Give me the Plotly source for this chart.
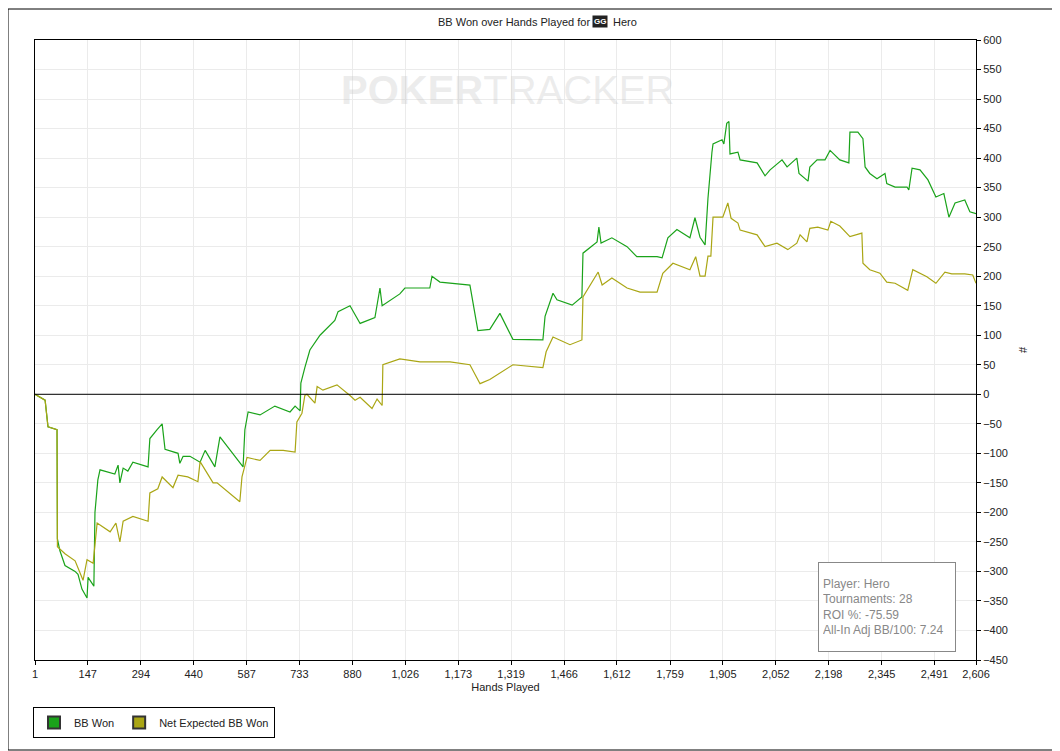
import plotly.graph_objects as go

bb_hands = [1,15,29,37,62,63,70,84,112,120,131,145,148,164,167,175,181,222,231,236,245,258,272,314,319,339,353,361,397,402,411,430,458,472,499,513,577,582,591,624,652,665,707,721,735,737,748,762,790,831,840,873,901,942,956,962,1011,1025,1094,1100,1122,1205,1227,1260,1288,1324,1407,1413,1435,1446,1488,1515,1518,1557,1562,1568,1598,1640,1667,1723,1737,1753,1778,1814,1828,1842,1856,1864,1875,1878,1903,1908,1916,1922,1925,1947,1953,2000,2022,2036,2069,2083,2110,2116,2141,2146,2166,2188,2202,2229,2254,2257,2279,2293,2299,2312,2332,2354,2359,2382,2415,2420,2429,2451,2473,2495,2517,2531,2548,2575,2589,2606]
bb_won = [0,-5,-10,-55,-60,-245,-265,-290,-300,-305,-330,-345,-310,-325,-200,-145,-128,-135,-120,-150,-125,-130,-115,-123,-75,-60,-50,-93,-100,-117,-105,-105,-115,-95,-123,-72,-123,-60,-30,-35,-25,-20,-30,-20,-28,19,45,75,100,125,140,150,120,130,180,150,170,180,180,200,190,185,108,110,137,93,92,132,171,160,151,165,239,258,283,256,265,250,233,233,231,265,279,265,299,266,253,332,410,424,431,424,459,462,407,410,397,392,370,380,397,385,400,374,361,385,397,397,413,397,392,444,444,433,385,374,365,374,357,351,351,346,383,380,363,334,340,300,324,329,309,306]

ev_hands = [1,15,29,37,62,63,84,112,134,145,162,173,209,225,236,245,272,314,319,341,353,383,397,424,452,458,494,505,521,568,574,588,624,652,688,721,726,740,748,754,776,782,798,837,873,887,901,934,948,962,964,1011,1067,1150,1205,1233,1260,1288,1324,1407,1416,1435,1482,1515,1518,1560,1571,1598,1640,1676,1723,1739,1767,1814,1830,1842,1856,1864,1872,1878,1905,1919,1928,1947,1953,2000,2022,2055,2085,2110,2119,2138,2146,2168,2196,2204,2229,2257,2290,2293,2312,2340,2359,2382,2417,2431,2470,2495,2520,2539,2575,2597,2606]
ev_won = [0,-5,-10,-55,-60,-258,-270,-282,-315,-280,-286,-218,-233,-218,-250,-215,-207,-215,-167,-160,-140,-158,-137,-140,-148,-114,-150,-150,-158,-182,-140,-107,-112,-95,-95,-98,-47,-32,-2,0,-15,13,7,16,-2,-10,-5,-24,-8,-19,50,60,55,55,50,18,25,36,50,45,72,97,84,92,165,207,185,197,180,173,173,205,222,211,233,200,200,234,234,300,300,324,298,290,278,270,250,256,245,256,270,258,281,283,278,293,285,267,273,222,211,205,190,188,176,211,199,188,207,204,204,202,188]

x_ticks = [1,147,294,440,587,733,880,1026,1173,1319,1466,1612,1759,1905,2052,2198,2345,2491,2606]
y_ticks = list(range(-450, 601, 50))

GREEN = "#1aa31a"
OLIVE = "#aaa614"
font = dict(family="Liberation Sans, Arial, sans-serif", size=11, color="#222")

fig = go.Figure()
fig.add_trace(go.Scatter(x=bb_hands, y=bb_won, mode="lines", name="BB Won",
                         line=dict(color=GREEN, width=1.2), showlegend=False))
fig.add_trace(go.Scatter(x=ev_hands, y=ev_won, mode="lines", name="Net Expected BB Won",
                         line=dict(color=OLIVE, width=1.2), showlegend=False))
for nm, col in [("BB Won", GREEN), ("Net Expected BB Won", OLIVE)]:
    fig.add_trace(go.Scatter(x=[None], y=[None], mode="markers", name=nm,
                             marker=dict(symbol="square", size=9, color=col,
                                         line=dict(color="#333", width=1))))

PW, PH = 941, 620
fig.update_layout(
    width=1052, height=743, paper_bgcolor="white", plot_bgcolor="white",
    margin=dict(l=27, r=84, t=32, b=91), font=font,
    showlegend=True,
    legend=dict(orientation="h", x=-2/PW, y=-47/PH, xanchor="left", yanchor="top",
                bordercolor="black", borderwidth=1, font=font,
                itemwidth=30, tracegroupgap=0, itemsizing="constant"),
    shapes=[dict(type="rect", xref="paper", yref="paper", x0=-27/PW, x1=1+83/PW,
                 y0=-90/PH, y1=1+31/PH, line=dict(color="black", width=1)),
            dict(type="line", xref="paper", yref="y", x0=0, x1=1, y0=0, y1=0,
                 line=dict(color="black", width=1))],
    annotations=[
        dict(text="BB Won over Hands Played for", xref="paper", yref="paper",
             x=(592-35)/PW, y=1+18/PH, xanchor="right", yanchor="middle", showarrow=False, font=font),
        dict(text="<b>GG</b>", xref="paper", yref="paper", x=(600-35)/PW, y=1+18/PH,
             xanchor="center", yanchor="middle", showarrow=False, bgcolor="#222",
             font=dict(family="Liberation Sans", size=8, color="white"), borderpad=1),
        dict(text="Hero", xref="paper", yref="paper", x=(611-35)/PW, y=1+18/PH,
             xanchor="left", yanchor="middle", showarrow=False, font=font),
        dict(text="<b>POKER</b>TRACKER", xref="paper", yref="paper", x=(507-35)/PW, y=1-50/PH,
             xanchor="center", yanchor="middle", showarrow=False,
             font=dict(family="Liberation Sans", size=40, color="rgba(200,200,200,0.35)")),
        dict(text="Player: Hero<br>Tournaments: 28<br>ROI %: -75.59<br>All-In Adj BB/100: 7.24",
             xref="paper", yref="paper", x=(818-35)/PW, y=1-(562-40)/PH,
             xanchor="left", yanchor="top", align="left", valign="middle", showarrow=False,
             width=128, height=80,
             bgcolor="white", bordercolor="#888", borderwidth=1, borderpad=4,
             font=dict(family="Liberation Sans", size=12, color="#888")),
    ],
)
fig.update_xaxes(range=[1, 2606], tickvals=x_ticks, ticktext=[f"{v:,}" for v in x_ticks],
                 showgrid=True, gridcolor="#ebebeb", zeroline=False,
                 showline=True, linecolor="black", mirror=True, ticks="outside", ticklen=4,
                 tickcolor="black", title=dict(text="Hands Played", standoff=4, font=font))
fig.update_yaxes(range=[-450, 600], tickvals=y_ticks, side="right",
                 showgrid=True, gridcolor="#ebebeb", zeroline=False,
                 showline=True, linecolor="black", mirror=True, ticks="outside", ticklen=4,
                 tickcolor="black", title=dict(text="#", standoff=12, font=font))
fig.write_html("out.html")
